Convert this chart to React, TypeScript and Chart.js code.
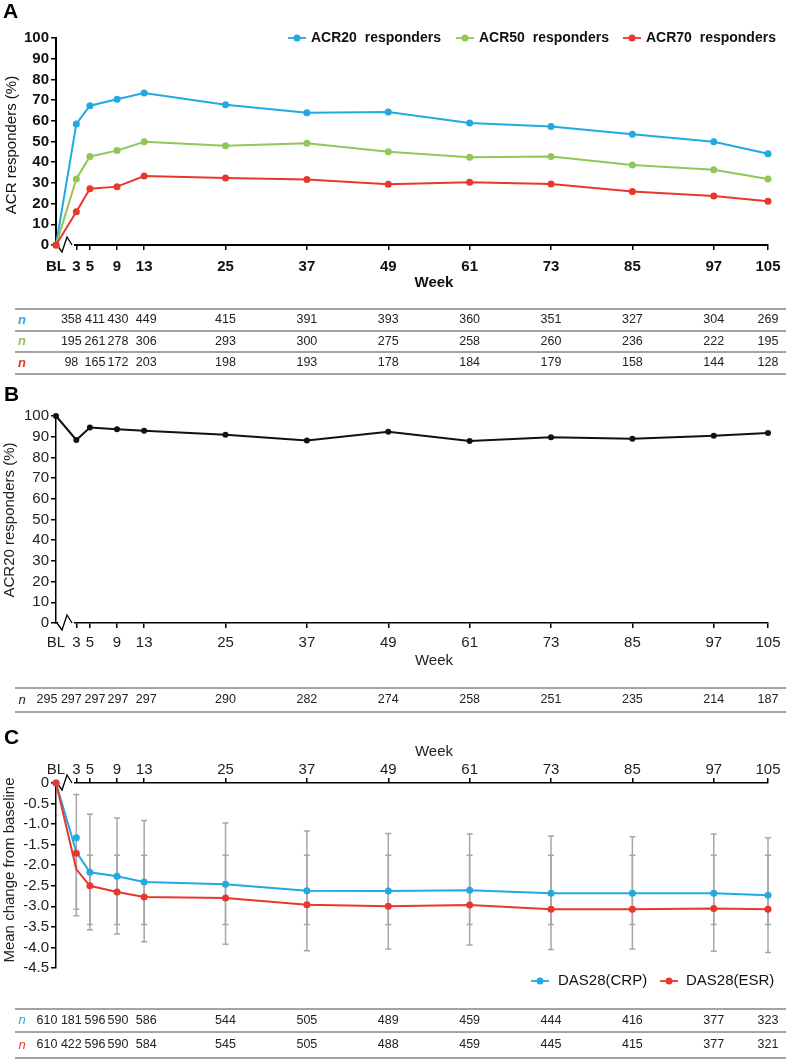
import React, { useEffect, useRef } from 'react';
import { Chart, registerables } from 'chart.js';

Chart.register(...registerables);

const FONT = '"Liberation Sans", Arial, Helvetica, sans-serif';
Chart.defaults.font.family = FONT;

const BLUE = '#23a9e1';
const GREEN = '#92c656';
const RED = '#e8382b';

// Weeks (BL = 0)
const weeks = [0, 3, 5, 9, 13, 25, 37, 49, 61, 73, 85, 97, 105];

// Panel A – ACR responders (%)
const acr20 = [0, 58.5, 67.3, 70.4, 73.4, 67.8, 63.9, 64.3, 58.9, 57.3, 53.5, 49.9, 44.1];
const acr50 = [0, 31.9, 42.8, 45.6, 49.9, 48.0, 49.1, 45.1, 42.4, 42.7, 38.6, 36.4, 31.9];
const acr70 = [0, 16.1, 27.2, 28.2, 33.3, 32.4, 31.6, 29.3, 30.3, 29.5, 25.9, 23.7, 21.1];
const nAcr20 = [null, 358, 411, 430, 449, 415, 391, 393, 360, 351, 327, 304, 269];
const nAcr50 = [null, 195, 261, 278, 306, 293, 300, 275, 258, 260, 236, 222, 195];
const nAcr70 = [null, 98, 165, 172, 203, 198, 193, 178, 184, 179, 158, 144, 128];

// Panel B – ACR20 responders (%)
const acr20B = [100, 88.4, 94.4, 93.6, 92.9, 91.0, 88.2, 92.4, 87.9, 89.7, 89.0, 90.5, 91.8];
const nB = [295, 297, 297, 297, 297, 290, 282, 274, 258, 251, 235, 214, 187];

// Panel C – mean change from baseline
const crpMean = [0, -1.33, -2.17, -2.27, -2.41, -2.46, -2.62, -2.63, -2.61, -2.68, -2.68, -2.68, -2.73];
const esrMean = [0, -1.71, -2.5, -2.65, -2.77, -2.8, -2.96, -3.0, -2.97, -3.07, -3.07, -3.05, -3.07];
const crpLine = [0, -1.68, -2.17, -2.27, -2.41, -2.46, -2.62, -2.63, -2.61, -2.68, -2.68, -2.68, -2.73];
const esrLine = [0, -2.1, -2.5, -2.65, -2.77, -2.8, -2.96, -3.0, -2.97, -3.07, -3.07, -3.05, -3.07];
const crpSdHigh = [null, -0.28, -0.76, -0.85, -0.91, -0.97, -1.17, -1.23, -1.24, -1.29, -1.31, -1.24, -1.33];
const crpSdLow = [null, -3.23, -3.57, -3.67, -3.86, -3.92, -4.08, -4.04, -3.94, -4.05, -4.04, -4.09, -4.12];
const esrSdHigh = [null, -1.76, -1.76, -1.76, -1.76, -1.76, -1.76, -1.76, -1.76, -1.76, -1.76, -1.76, -1.76];
const esrSdLow = [null, -3.07, -3.44, -3.44, -3.44, -3.44, -3.44, -3.44, -3.44, -3.44, -3.44, -3.44, -3.44];
const nCrp = [610, 181, 596, 590, 586, 544, 505, 489, 459, 444, 416, 377, 323];
const nEsr = [610, 422, 596, 590, 584, 545, 505, 488, 459, 445, 415, 377, 321];

// table column nudges for crowded early weeks
const colNudge = [-9, -5, 5, 1, 2, 0, 0, 0, 0, 0, 0, 0, 0];

function series(vals: number[], color: string, radius: number, order: number, showLine = true) {
  return {
    data: weeks.map((w, i) => ({ x: w, y: vals[i] })),
    borderColor: color,
    backgroundColor: color,
    borderWidth: 2,
    pointRadius: radius,
    pointBackgroundColor: color,
    pointBorderWidth: 0,
    tension: 0,
    clip: false,
    showLine,
    order,
  };
}

function xScale(position: string, weight: string, pad: number, bw: number) {
  return {
    type: 'linear',
    position,
    min: 0,
    max: 105,
    afterBuildTicks: (s: any) => {
      s.ticks = weeks.map((v) => ({ value: v }));
    },
    afterFit: (s: any) => {
      s.height = 30;
    },
    ticks: {
      autoSkip: false,
      maxRotation: 0,
      padding: pad,
      color: '#111',
      font: { size: 15, weight },
      callback: (v: any) => (v === 0 ? 'BL' : String(v)),
    },
    grid: {
      drawOnChartArea: false,
      drawTicks: true,
      tickLength: 5,
      lineWidth: 1.5,
      color: (c: any) => (c.tick && c.tick.value === 0 ? 'rgba(0,0,0,0)' : '#000'),
    },
    border: { display: true, color: '#000', width: bw },
  };
}

function yScale(min: number, max: number, step: number, weight: string, fmt: (v: number) => string, bw: number) {
  return {
    type: 'linear',
    min,
    max,
    afterFit: (s: any) => {
      s.width = 56;
    },
    ticks: {
      stepSize: step,
      autoSkip: false,
      padding: 2,
      color: '#111',
      font: { size: 15, weight },
      callback: (v: any) => fmt(Number(v)),
    },
    grid: { drawOnChartArea: false, drawTicks: true, tickLength: 5, lineWidth: 1.5, color: '#000' },
    border: { display: true, color: '#000', width: bw },
  };
}

function drawBreak(ctx: CanvasRenderingContext2D, x0: number, y: number) {
  ctx.save();
  ctx.fillStyle = '#fff';
  ctx.fillRect(x0 + 2, y - 2, 16, 4);
  ctx.strokeStyle = '#000';
  ctx.lineWidth = 1.3;
  ctx.beginPath();
  ctx.moveTo(x0 + 1, y);
  ctx.lineTo(x0 + 6, y + 7);
  ctx.lineTo(x0 + 11, y - 8);
  ctx.lineTo(x0 + 16, y);
  ctx.stroke();
  ctx.restore();
}

function drawText(ctx: CanvasRenderingContext2D, text: string, x: number, y: number, font: string, color: string, align: CanvasTextAlign = 'center', rotate = false) {
  ctx.save();
  ctx.font = font;
  ctx.fillStyle = color;
  ctx.textAlign = align;
  ctx.textBaseline = 'middle';
  if (rotate) {
    ctx.translate(x, y);
    ctx.rotate(-Math.PI / 2);
    ctx.fillText(text, 0, 0);
  } else {
    ctx.fillText(text, x, y);
  }
  ctx.restore();
}

function drawTable(chart: any, lines: number[], rows: { color: string; values: (number | null)[]; nFont: string }[]) {
  const ctx: CanvasRenderingContext2D = chart.ctx;
  const xs = chart.scales.x;
  ctx.save();
  ctx.strokeStyle = '#a3a3a3';
  ctx.lineWidth = 2;
  lines.forEach((y) => {
    ctx.beginPath();
    ctx.moveTo(15, y);
    ctx.lineTo(786, y);
    ctx.stroke();
  });
  rows.forEach((row, i) => {
    const cy = (lines[i] + lines[i + 1]) / 2;
    drawText(ctx, 'n', 22, cy, row.nFont, row.color);
    row.values.forEach((v, j) => {
      if (v == null) return;
      drawText(ctx, String(v), xs.getPixelForValue(weeks[j]) + colNudge[j], cy, `12.5px ${FONT}`, '#222');
    });
  });
  ctx.restore();
}

function drawLegendItem(ctx: CanvasRenderingContext2D, x: number, y: number, color: string, label: string, font: string, textGap: number) {
  ctx.save();
  ctx.strokeStyle = color;
  ctx.lineWidth = 1.8;
  ctx.beginPath();
  ctx.moveTo(x, y);
  ctx.lineTo(x + 18, y);
  ctx.stroke();
  ctx.fillStyle = color;
  ctx.beginPath();
  ctx.arc(x + 9, y, 3.5, 0, Math.PI * 2);
  ctx.fill();
  ctx.restore();
  drawText(ctx, label, x + textGap, y, font, '#111', 'left');
}

const pluginA = {
  id: 'panelA',
  beforeDatasetsDraw(chart: any) {
    drawBreak(chart.ctx, chart.chartArea.left, chart.chartArea.bottom);
  },
  afterDraw(chart: any) {
    const ctx = chart.ctx;
    drawText(ctx, 'A', 3, 12, `bold 21px ${FONT}`, '#000', 'left');
    drawText(ctx, 'ACR responders (%)', 12, 145, `15px ${FONT}`, '#111', 'center', true);
    drawText(ctx, 'Week', 434, 283, `bold 15px ${FONT}`, '#111');
    drawLegendItem(ctx, 288, 38, BLUE, 'ACR20  responders', `bold 14px ${FONT}`, 23);
    drawLegendItem(ctx, 456, 38, GREEN, 'ACR50  responders', `bold 14px ${FONT}`, 23);
    drawLegendItem(ctx, 623, 38, RED, 'ACR70  responders', `bold 14px ${FONT}`, 23);
    drawTable(chart, [309, 331, 352, 374], [
      { color: BLUE, values: nAcr20, nFont: `italic bold 13px ${FONT}` },
      { color: GREEN, values: nAcr50, nFont: `italic bold 13px ${FONT}` },
      { color: RED, values: nAcr70, nFont: `italic bold 13px ${FONT}` },
    ]);
  },
};

const pluginB = {
  id: 'panelB',
  beforeDatasetsDraw(chart: any) {
    drawBreak(chart.ctx, chart.chartArea.left, chart.chartArea.bottom);
  },
  afterDraw(chart: any) {
    const ctx = chart.ctx;
    drawText(ctx, 'B', 4, 395, `bold 21px ${FONT}`, '#000', 'left');
    drawText(ctx, 'ACR20 responders (%)', 10, 520, `15px ${FONT}`, '#222', 'center', true);
    drawText(ctx, 'Week', 434, 661, `15px ${FONT}`, '#222');
    drawTable(chart, [688, 712], [{ color: '#222', values: nB, nFont: `italic 13px ${FONT}` }]);
  },
};

const pluginC = {
  id: 'panelC',
  beforeDatasetsDraw(chart: any) {
    const ctx: CanvasRenderingContext2D = chart.ctx;
    drawBreak(ctx, chart.chartArea.left, chart.chartArea.top);
    const xs = chart.scales.x;
    const ys = chart.scales.y;
    ctx.save();
    ctx.strokeStyle = '#a6a6a6';
    ctx.lineWidth = 1.5;
    const bar = (x: number, hi: number | null, lo: number | null) => {
      if (hi == null || lo == null) return;
      const y1 = ys.getPixelForValue(hi);
      const y2 = ys.getPixelForValue(lo);
      ctx.beginPath();
      ctx.moveTo(x, y1);
      ctx.lineTo(x, y2);
      ctx.moveTo(x - 3, y1);
      ctx.lineTo(x + 3, y1);
      ctx.moveTo(x - 3, y2);
      ctx.lineTo(x + 3, y2);
      ctx.stroke();
    };
    weeks.forEach((w, j) => {
      const x = xs.getPixelForValue(w);
      bar(x, crpSdHigh[j], crpSdLow[j]);
      bar(x, esrSdHigh[j], esrSdLow[j]);
    });
    ctx.restore();
  },
  afterDraw(chart: any) {
    const ctx = chart.ctx;
    drawText(ctx, 'C', 4, 738, `bold 21px ${FONT}`, '#000', 'left');
    drawText(ctx, 'Mean change from baseline', 10, 870, `15px ${FONT}`, '#222', 'center', true);
    drawText(ctx, 'Week', 434, 752, `15px ${FONT}`, '#222');
    drawLegendItem(ctx, 531, 981, BLUE, 'DAS28(CRP)', `15px ${FONT}`, 27);
    drawLegendItem(ctx, 660, 981, RED, 'DAS28(ESR)', `15px ${FONT}`, 26);
    drawTable(chart, [1009, 1032, 1058], [
      { color: BLUE, values: nCrp, nFont: `italic 13px ${FONT}` },
      { color: RED, values: nEsr, nFont: `italic 13px ${FONT}` },
    ]);
  },
};

function baseOptions(padding: any, scales: any) {
  return {
    responsive: false,
    animation: false,
    events: [],
    devicePixelRatio: 1,
    layout: { padding },
    plugins: { legend: { display: false }, tooltip: { enabled: false } },
    scales,
  };
}

function configA(): any {
  return {
    type: 'line',
    data: {
      datasets: [series(acr20, BLUE, 3.5, 3), series(acr50, GREEN, 3.5, 2), series(acr70, RED, 3.5, 1)],
    },
    options: baseOptions(
      { top: 38, right: 22, bottom: 788, left: 0 },
      { x: xScale('bottom', 'bold', 8, 2), y: yScale(0, 100, 10, 'bold', (v) => String(v), 2) }
    ),
    plugins: [pluginA],
  };
}

function configB(): any {
  const y = yScale(0, 100, 10, 'normal', (v) => String(v), 1.5);
  y.ticks.color = '#222';
  const x = xScale('bottom', 'normal', 6, 1.5);
  x.ticks.color = '#222';
  return {
    type: 'line',
    data: { datasets: [series(acr20B, '#111', 3, 1)] },
    options: baseOptions({ top: 416, right: 22, bottom: 410, left: 0 }, { x, y }),
    plugins: [pluginB],
  };
}

function configC(): any {
  const y = yScale(-4.5, 0, 0.5, 'normal', (v) => (Math.abs(v) < 1e-9 ? '0' : v.toFixed(1)), 1.5);
  y.ticks.color = '#222';
  const x = xScale('top', 'normal', -1, 1.5);
  x.ticks.color = '#222';
  return {
    type: 'line',
    data: {
      datasets: [
        { ...series(crpLine, BLUE, 0, 4), pointRadius: 0 },
        { ...series(esrLine, RED, 0, 3), pointRadius: 0 },
        series(crpMean, BLUE, 3.5, 2, false),
        series(esrMean, RED, 3.5, 1, false),
      ],
    },
    options: baseOptions({ top: 753, right: 22, bottom: 95, left: 0 }, { x, y }),
    plugins: [pluginC],
  };
}

function ChartCanvas({ make }: { make: () => any }) {
  const ref = useRef<HTMLCanvasElement>(null);
  useEffect(() => {
    const chart = new Chart(ref.current as HTMLCanvasElement, make());
    return () => chart.destroy();
  }, []);
  return (
    <canvas
      ref={ref}
      width={790}
      height={1063}
      style={{ position: 'absolute', left: 0, top: 0, width: 790, height: 1063 }}
    />
  );
}

export default function App() {
  return (
    <div style={{ position: 'absolute', left: 0, top: 0, width: 790, height: 1063, background: '#fff', overflow: 'hidden' }}>
      <ChartCanvas make={configA} />
      <ChartCanvas make={configB} />
      <ChartCanvas make={configC} />
    </div>
  );
}
